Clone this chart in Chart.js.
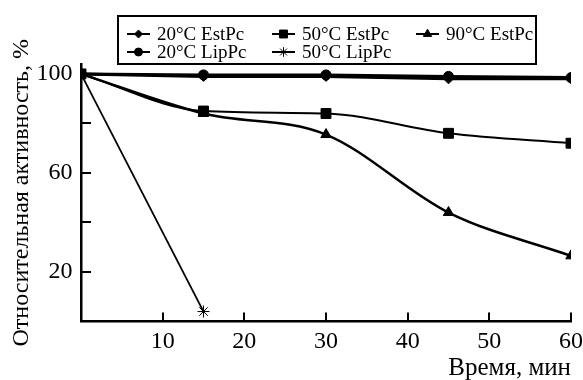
<!DOCTYPE html>
<html>
<head>
<meta charset="utf-8">
<script src="https://cdn.jsdelivr.net/npm/chart.js@4.4.0/dist/chart.umd.min.js"></script>
<style>
    html, body { margin: 0; padding: 0; background: #fff; }
</style>
</head>
<body>
<canvas id="grafico-linea" width="583" height="380"></canvas>
<script>
// dati (tempo in minuti, attività relativa in %)
var tempi = [0, 15, 30, 45, 60];
var tempiLip50 = [0, 15];
var est20 = [100, 99, 99, 98, 98];
var est50 = [100, 85, 84, 76, 72];
var est90 = [100, 84, 75.5, 44, 26.5];
var lip20 = [100, 99.6, 99.6, 99, 98.5];
var lip50 = [100, 4];
var tickX = [10, 20, 30, 40, 50, 60];
var tickY = [20, 40, 60, 80, 100];
var etichetteY = [20, 60, 100];

var FONT = '"Liberation Serif", "Times New Roman", serif';

function punti (xs, ys) {
    return xs.map(function (x, i) { return {x: x, y: ys[i]}; });
}

function serie (label, xs, ys, stile, raggio, spessore, curva) {
    return {
        label: label,
        data: punti(xs, ys),
        borderColor: '#000',
        backgroundColor: '#000',
        borderWidth: spessore,
        pointStyle: stile,
        pointRadius: raggio,
        pointBorderWidth: 1,
        pointBackgroundColor: '#000',
        pointBorderColor: '#000',
        cubicInterpolationMode: curva ? 'monotone' : 'default',
        tension: 0
    };
}

// tacche interne sugli assi
var tacche = {
    id: 'tacche',
    afterDraw: function (chart) {
        var ctx = chart.ctx;
        var sx = chart.scales.x, sy = chart.scales.y, area = chart.chartArea;
        ctx.save();
        ctx.strokeStyle = '#000';
        ctx.lineWidth = 2;
        ctx.beginPath();
        tickX.forEach(function (v) {
            var px = Math.round(sx.getPixelForValue(v));
            ctx.moveTo(px, area.bottom);
            ctx.lineTo(px, area.bottom - 9);
        });
        tickY.forEach(function (v) {
            var py = Math.round(sy.getPixelForValue(v));
            ctx.moveTo(area.left, py);
            ctx.lineTo(area.left + 10, py);
        });
        ctx.stroke();
        ctx.restore();
    }
};

// legenda in riquadro, 3 colonne
var legenda = {
    id: 'legenda',
    afterDraw: function (chart) {
        var ctx = chart.ctx;
        var colonne = [127, 272, 416];
        var righe = [34, 52];
        ctx.save();
        ctx.fillStyle = '#fff';
        ctx.fillRect(118, 16, 418, 48);
        ctx.strokeStyle = '#000';
        ctx.lineWidth = 2;
        ctx.strokeRect(118, 16, 418, 48);
        ctx.font = '19px ' + FONT;
        ctx.textBaseline = 'middle';
        chart.data.datasets.forEach(function (ds, i) {
            var x = colonne[i % 3], y = righe[Math.floor(i / 3)];
            ctx.strokeStyle = '#000';
            ctx.fillStyle = '#000';
            ctx.lineWidth = 2;
            ctx.beginPath();
            ctx.moveTo(x, y);
            ctx.lineTo(x + 23, y);
            ctx.stroke();
            ctx.lineWidth = 1;
            Chart.helpers.drawPoint(ctx, {
                pointStyle: ds.pointStyle,
                radius: ds.pointRadius * 0.8,
                borderWidth: 1,
                rotation: 0
            }, x + 11.5, y);
            ctx.fillStyle = '#000';
            ctx.fillText(ds.label, x + 30, y + 1);
        });
        ctx.restore();
    }
};

var ctx = document.getElementById('grafico-linea');
var chart = new Chart(ctx, {
    type: 'line',
    data: {
        datasets: [
            serie('20°C EstPc', tempi, est20, 'rectRot', 5, 3, false),
            serie('50°C EstPc', tempi, est50, 'rect', 7, 2, true),
            serie('90°C EstPc', tempi, est90, 'triangle', 6, 2.5, true),
            serie('20°C LipPc', tempi, lip20, 'circle', 5, 3, false),
            serie('50°C LipPc', tempiLip50, lip50, 'star', 6, 1.8, false)
        ]
    },
    options: {
        responsive: false,
        animation: false,
        layout: {padding: {top: 64, left: 10, right: 0, bottom: 0}},
        plugins: {
            legend: {display: false},
            tooltip: {enabled: false}
        },
        scales: {
            x: {
                type: 'linear',
                min: 0,
                max: 60,
                grid: {display: false, drawTicks: false, tickLength: 0},
                border: {display: true, color: '#000', width: 2.5},
                afterBuildTicks: function (scale) {
                    scale.ticks = tickX.map(function (v) { return {value: v}; });
                },
                afterFit: function (scale) {
                    scale.paddingRight = 12;
                },
                ticks: {
                    padding: 6,
                    color: '#000',
                    font: {family: FONT, size: 24},
                    maxRotation: 0,
                    autoSkip: false
                },
                title: {
                    display: true,
                    text: 'Время, мин',
                    align: 'end',
                    color: '#000',
                    font: {family: FONT, size: 25, lineHeight: 0.95},
                    padding: {top: -6, bottom: 0}
                }
            },
            y: {
                min: 0,
                max: 104,
                grid: {display: false, drawTicks: false, tickLength: 0},
                border: {display: true, color: '#000', width: 2.5},
                afterBuildTicks: function (scale) {
                    scale.ticks = tickY.map(function (v) { return {value: v}; });
                },
                ticks: {
                    padding: 8.5,
                    color: '#000',
                    autoSkip: false,
                    font: {family: FONT, size: 24},
                    callback: function (v) { return etichetteY.indexOf(v) >= 0 ? String(v) : ''; }
                },
                title: {
                    display: true,
                    text: 'Относительная активность, %',
                    color: '#000',
                    font: {family: FONT, size: 24, lineHeight: 1},
                    padding: {top: 0, bottom: -6}
                }
            }
        }
    },
    plugins: [tacche, legenda]
});
</script>
</body>
</html>
